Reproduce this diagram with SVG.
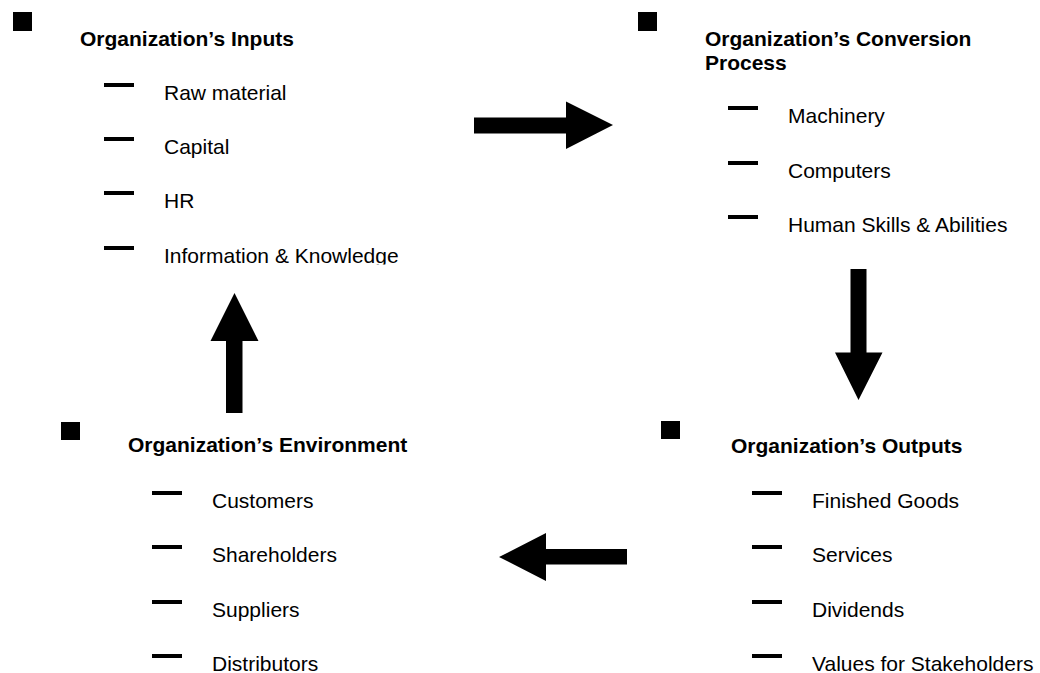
<svg xmlns="http://www.w3.org/2000/svg" width="1040" height="673" viewBox="0 0 1040 673">
<style>
.t{font-family:"Liberation Sans",Arial,sans-serif;font-size:21px;font-weight:bold;fill:#000}
.i{font-family:"Liberation Sans",Arial,sans-serif;font-size:21px;fill:#000}
.sq{fill:#000}
.d{fill:#000}
.ar{fill:#000}
</style>
<defs>
<clipPath id="clipInfo"><rect x="150" y="230" width="300" height="34.5"/></clipPath>
</defs>
<rect width="1040" height="673" fill="#fff"/>
<g id="node-inputs">
<rect class="sq" x="13" y="12" width="19" height="19"/>
<text class="t" x="80" y="46">Organization’s Inputs</text>
<rect class="d" x="104" y="83" width="30" height="4"/>
<text class="i" x="164" y="100">Raw material</text>
<rect class="d" x="104" y="137" width="30" height="4"/>
<text class="i" x="164" y="154">Capital</text>
<rect class="d" x="104" y="191" width="30" height="4"/>
<text class="i" x="164" y="208">HR</text>
<rect class="d" x="104" y="246" width="30" height="4"/>
<text class="i" x="164" y="263" clip-path="url(#clipInfo)">Information &amp; Knowledge</text>
</g>
<g id="node-conversion">
<rect class="sq" x="638" y="12" width="19" height="19"/>
<text class="t" x="705" y="46">Organization’s Conversion</text>
<text class="t" x="705" y="70">Process</text>
<rect class="d" x="728" y="106" width="30" height="4"/>
<text class="i" x="788" y="123">Machinery</text>
<rect class="d" x="728" y="161" width="30" height="4"/>
<text class="i" x="788" y="178">Computers</text>
<rect class="d" x="728" y="215" width="30" height="4"/>
<text class="i" x="788" y="232">Human Skills &amp; Abilities</text>
</g>
<g id="node-environment">
<rect class="sq" x="61" y="422" width="19" height="18"/>
<text class="t" x="128" y="452">Organization’s Environment</text>
<rect class="d" x="152" y="491" width="30" height="4"/>
<text class="i" x="212" y="508">Customers</text>
<rect class="d" x="152" y="545" width="30" height="4"/>
<text class="i" x="212" y="562">Shareholders</text>
<rect class="d" x="152" y="600" width="30" height="4"/>
<text class="i" x="212" y="617">Suppliers</text>
<rect class="d" x="152" y="654" width="30" height="4"/>
<text class="i" x="212" y="671">Distributors</text>
</g>
<g id="node-outputs">
<rect class="sq" x="661" y="421" width="19" height="18"/>
<text class="t" x="731" y="453">Organization’s Outputs</text>
<rect class="d" x="752" y="491" width="30" height="4"/>
<text class="i" x="812" y="508">Finished Goods</text>
<rect class="d" x="752" y="545" width="30" height="4"/>
<text class="i" x="812" y="562">Services</text>
<rect class="d" x="752" y="600" width="30" height="4"/>
<text class="i" x="812" y="617">Dividends</text>
<rect class="d" x="752" y="654" width="30" height="4"/>
<text class="i" x="812" y="671">Values for Stakeholders</text>
</g>
<g id="connectors">
<polygon class="ar" points="474,117.5 566,117.5 566,101.5 613,125 566,149 566,133.5 474,133.5"/>
<polygon class="ar" points="850.5,269 866.5,269 866.5,352.5 882.5,352.5 858.5,400 835,352.5 850.5,352.5"/>
<polygon class="ar" points="627,549 546,549 546,533 499,557 546,581 546,564.5 627,564.5"/>
<polygon class="ar" points="226,413 226,341 210.5,341 234.5,293 258.5,341 242.5,341 242.5,413"/>
</g>
</svg>
